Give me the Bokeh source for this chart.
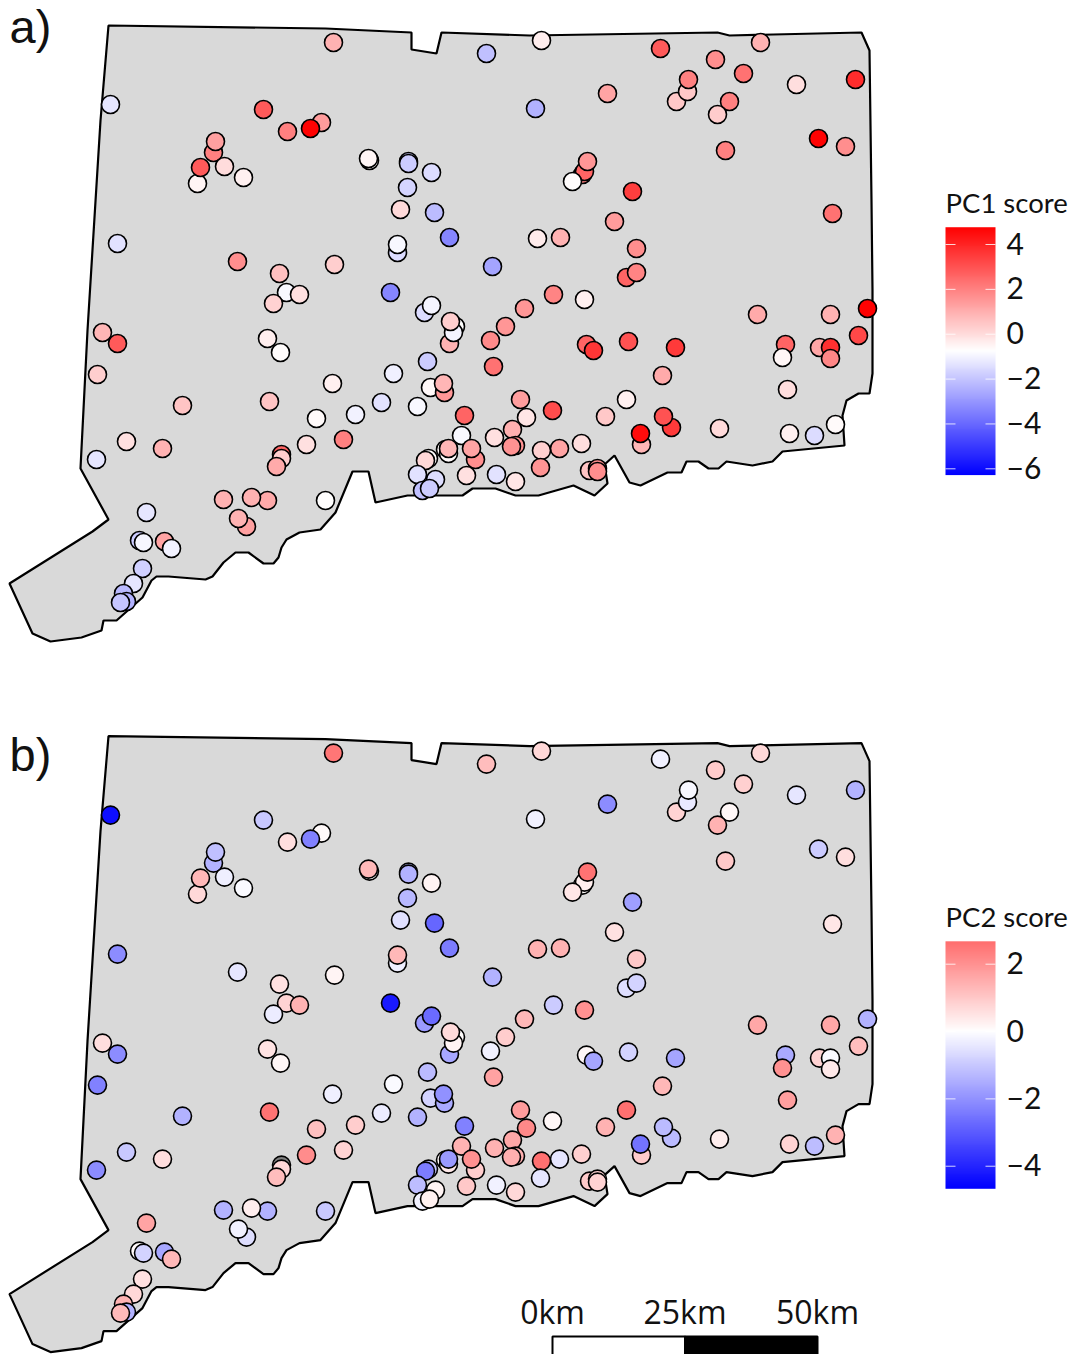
import numpy as np
from bokeh.plotting import figure
from bokeh.layouts import column
from bokeh.models import Range1d, LinearColorMapper, ColumnDataSource
from bokeh.core.properties import value
from bokeh.embed import file_html
from bokeh.resources import INLINE

nan = float("nan")

# Outline of the state, read in map units
outline_x = [108, 325, 411, 411, 436, 441, 529, 717, 729, 861, 869, 871, 872, 872, 869, 858, 846, 842, 844,
             782, 772, 752, 726, 718, 708, 698, 686, 681, 667, 640, 629, 614, 604, 607, 594, 573, 538, 515,
             495, 472, 462, 407, 375, 368, 352, 335, 320, 299, 286, 281, 278, 273, 263, 248, 235, 223, 212,
             205, 168, 156, 151, 142, 116, 103, 101, 81, 50, 32, 9, 92, 108, 80, 87, 100]
outline_y = [25, 28, 32, 49, 53, 32, 35, 32, 35, 32, 50, 200, 290, 373, 393, 393, 400, 415, 445,
             451, 461, 465, 461, 468, 468, 461, 461, 472, 472, 485, 482, 455, 464, 483, 495, 485, 495, 495,
             488, 488, 495, 495, 502, 471, 471, 512, 529, 532, 539, 547, 557, 563, 563, 552, 552, 562, 576,
             579, 576, 576, 580, 597, 620, 620, 630, 637, 641, 633, 583, 531, 519, 468, 330, 120]

# Stations: position on the map and the two principal component scores
station_x = [333, 486, 110, 263, 321, 287, 310, 213, 215, 197,
             200, 224, 243, 369, 368, 408, 408, 431, 407, 400,
             434, 449, 397, 397, 117, 492, 237, 279, 334, 286,
             299, 273, 390, 424, 431, 455, 449, 453, 450, 541,
             660, 760, 715, 743, 607, 676, 687, 688, 729, 717,
             796, 855, 535, 818, 845, 725, 582, 584, 587, 572,
             632, 614, 832, 537, 560, 636, 626, 636, 553, 584,
             524, 757, 830, 867, 505, 102, 117, 97, 182, 269,
             267, 280, 332, 316, 355, 381, 393, 427, 417, 430,
             444, 443, 490, 493, 464, 343, 306, 126, 162, 96,
             281, 281, 276, 461, 445, 448, 448, 475, 471, 466,
             494, 428, 425, 417, 435, 422, 429, 325, 223, 267,
             251, 246, 238, 146, 139, 143, 164, 171, 142, 133,
             123, 126, 120, 520, 526, 512, 515, 511, 496, 515,
             559, 541, 540, 552, 581, 605, 626, 586, 593, 628,
             675, 662, 671, 663, 641, 640, 719, 785, 782, 787,
             819, 830, 830, 858, 789, 814, 835, 589, 597, 597]
station_y = [42, 53, 104, 109, 122, 131, 128, 152, 141, 183,
             167, 166, 177, 160, 158, 161, 163, 172, 187, 209,
             212, 237, 252, 244, 243, 266, 261, 273, 264, 292,
             294, 303, 292, 312, 305, 326, 343, 332, 321, 40,
             48, 42, 59, 73, 93, 101, 91, 79, 101, 114,
             84, 79, 108, 138, 146, 150, 174, 171, 161, 181,
             191, 221, 213, 238, 237, 248, 277, 272, 294, 299,
             308, 314, 314, 308, 326, 332, 343, 374, 405, 401,
             338, 352, 383, 418, 414, 402, 373, 361, 406, 387,
             392, 383, 340, 366, 415, 439, 444, 441, 448, 459,
             454, 458, 466, 435, 449, 453, 448, 459, 448, 475,
             437, 458, 460, 474, 479, 490, 488, 500, 499, 500,
             497, 526, 518, 512, 540, 542, 541, 548, 568, 583,
             593, 601, 602, 399, 417, 429, 445, 446, 474, 481,
             448, 450, 467, 410, 443, 416, 399, 344, 350, 341,
             347, 375, 427, 416, 444, 433, 428, 344, 357, 389,
             347, 347, 358, 335, 433, 435, 424, 470, 468, 471]
pc1_scores = [0.9, -2.1, -1.3, 2.8, 1.4, 2.0, 4.7, 2.0, 1.3, -0.5,
              2.8, 0.0, -0.45, -0.7, -0.55, -1.8, -1.85, -1.5, -1.7, 0.05,
              -2.2, -3.35, -1.5, -0.9, -1.4, -2.7, 1.7, 0.6, 0.3, -0.9,
              -0.1, 0.2, -3.35, -1.5, -1.0, -0.75, 0.9, -1.0, 0.3, -0.4,
              2.8, 0.9, 1.7, 2.3, 1.2, 0.45, 0.45, 2.0, 2.0, 0.35,
              -0.05, 3.8, -2.4, 4.7, 1.7, 2.0, 2.0, 2.6, 1.5, -0.7,
              3.4, 1.4, 2.3, -0.35, 0.9, 1.7, 2.6, 1.9, 1.9, -0.45,
              1.5, 1.1, 0.9, 4.7, 1.5, 0.8, 2.8, 0.3, 0.5, 0.5,
              -0.4, -0.7, -0.45, -0.65, -1.05, -1.4, -1.1, -1.85, -0.9, -0.6,
              1.5, 0.8, 1.75, 2.3, 2.6, 2.0, -0.1, -0.1, 0.9, -1.3,
              2.6, 0.3, 1.1, -0.9, -0.65, -0.65, 0.8, 1.7, 1.2, -0.1,
              -0.1, -0.7, 0.1, -1.4, -1.45, -2.1, -1.85, -0.75, 0.9, 1.1,
              0.9, 1.3, 0.9, -1.3, -1.85, -0.95, 1.2, -1.05, -1.75, -1.3,
              -2.25, -2.4, -2.0, 1.35, -0.2, 0.95, 1.6, 1.6, -1.4, -0.2,
              1.2, 0.25, 1.55, 3.1, -0.05, 0.45, -0.45, 2.6, 3.6, 3.0,
              3.5, 1.1, 3.5, 3.0, 0.8, 4.5, 0.05, 2.6, -0.55, -0.05,
              1.15, 3.7, 1.85, 3.2, -0.45, -1.5, -0.65, 0.5, 1.7, 1.7]
pc2_scores = [2.5, 1.2, -4.4, -1.0, 0.1, 0.6, -2.3, -1.4, -1.15, 0.7,
              1.3, -0.3, -0.1, 0.0, 1.3, -1.3, -1.4, 0.2, -1.3, -0.55,
              -2.8, -2.4, -0.3, 1.3, -2.1, -1.4, -0.45, 0.55, 0.2, 0.8,
              1.4, -0.35, -4.2, -1.85, -2.7, 0.05, -1.6, 0.2, 0.65, 0.7,
              -0.25, 0.7, 0.95, 0.85, -2.1, 0.8, -0.4, -0.15, 0.15, 1.4,
              -0.45, -1.4, -0.25, -0.95, 0.6, 1.0, 0.05, 0.3, 2.55, 0.45,
              -1.75, 0.55, 0.45, 1.4, 1.4, 1.0, -0.6, -0.8, -0.95, 2.0,
              1.3, 1.6, 1.6, -1.4, 0.9, 0.6, -2.1, -2.3, -1.4, 2.55,
              0.5, 0.15, -0.3, 1.15, 0.9, -0.35, -0.1, -1.25, -1.4, -0.8,
              -1.55, -2.0, -0.25, 1.7, -2.3, 0.8, 2.1, -1.0, 0.6, -2.1,
              nan, 0.7, 1.2, 1.4, 0.1, 0.4, -1.85, 0.9, 2.0, 1.0,
              1.4, -1.0, -2.4, -1.2, 0.2, -0.25, 0.25, -1.0, -1.4, -1.4,
              0.3, -0.6, -0.25, 1.65, 0.1, -0.8, -1.6, 1.3, 0.55, 0.7,
              1.4, -1.4, 1.25, 1.8, 2.15, 1.6, 1.45, 1.45, -0.25, 0.7,
              -0.45, 2.6, -0.45, 0.15, 0.85, 1.4, 2.6, 0.15, -1.65, -0.8,
              -1.65, 1.3, -1.25, -1.25, 0.95, -2.55, 0.3, -1.55, 2.0, 1.75,
              0.8, -0.1, 0.4, 1.2, 0.8, -1.2, 1.4, 0.95, 0.8, 0.8]

# Colour scales
pc1_low, pc1_mid, pc1_high = -6.28, -0.755, 4.77
pc2_low, pc2_mid, pc2_high = -4.67, 0.0, 2.68
pc2_half_span = 4.67
pc1_ticks = [4, 2, 0, -2, -4, -6]
pc2_ticks = [2, 0, -2, -4]

scale_km = [0, 25, 50]
scale_labels = ["0km", "25km", "50km"]

PANEL_OFFSET = 710.6
PX_PER_KM = 5.3
SCALE_ORIGIN = 552


def palette(low, mid, high, half):
    colours = []
    for v in np.linspace(low, high, 256):
        a = min(abs(v - mid) / half, 1.0)
        c = int(round(255 * (1 - a)))
        colours.append(f"#ff{c:02x}{c:02x}" if v >= mid else f"#{c:02x}{c:02x}ff")
    return colours


def panel(letter, letter_y, scores, low, mid, high, half, ticks, title, page_top, page_bottom, offset,
          tick_anchor, px_per_unit):
    p = figure(width=1070, height=page_bottom - page_top, output_backend="svg", toolbar_location=None,
               x_range=Range1d(0, 1070), y_range=Range1d(page_bottom - offset, page_top - offset),
               x_axis_type=None, y_axis_type=None, min_border=0, outline_line_color=None,
               background_fill_color="white", border_fill_color="white")
    p.grid.visible = False
    # score axis used by the legend: tick_anchor is the page row of ticks[0]
    p.extra_y_ranges = {"score": Range1d(ticks[0] - (page_bottom - tick_anchor) / px_per_unit,
                                         ticks[0] + (tick_anchor - page_top) / px_per_unit)}

    p.patch(outline_x, outline_y, fill_color="#d9d9d9", line_color="black", line_width=2.2)

    mapper = LinearColorMapper(palette=palette(low, mid, high, half), low=low, high=high, nan_color="#808080")
    src = ColumnDataSource(dict(x=station_x, y=station_y, score=np.array(scores, dtype=float)))
    p.scatter("x", "y", source=src, size=18, marker="circle",
              fill_color={"field": "score", "transform": mapper}, line_color="black", line_width=1.6)

    # Panel letter
    p.text([9], [letter_y], text=[letter],
           text_font=value("Liberation Sans"), text_font_size="47px", text_baseline="alphabetic",
           text_color="#111111")

    # Legend
    grad = np.linspace(low, high, 256).reshape(256, 1)
    p.image(image=[grad], x=945, y=low, dw=50, dh=high - low, color_mapper=mapper, y_range_name="score")
    n = len(ticks)
    p.segment([945] * n, ticks, [955] * n, ticks, line_color="white", line_width=1, line_alpha=0.8, y_range_name="score")
    p.segment([985] * n, ticks, [995] * n, ticks, line_color="white", line_width=1, line_alpha=0.8, y_range_name="score")
    labels = [str(t).replace("-", "\u2212") for t in ticks]
    p.text([1006] * n, ticks, text=labels, text_font=value("Lato"), text_font_size="30px",
           text_baseline="middle", text_color="#111111", y_range_name="score", y_offset=-1)
    p.text([945], [high], text=[title], text_font=value("Lato"), text_font_size="27.5px",
           text_baseline="alphabetic", text_color="#111111", y_range_name="score", y_offset=-25)
    return p


pa = panel("a)", 26, pc1_scores, pc1_low, pc1_mid, pc1_high, pc1_high - pc1_mid, pc1_ticks, "PC1 score",
           0, 710, 0.0, 244.0, 22.43)
pb = panel("b)", 754 - PANEL_OFFSET, pc2_scores, pc2_low, pc2_mid, pc2_high, pc2_half_span, pc2_ticks, "PC2 score",
           710, 1354, PANEL_OFFSET, 963.7, 33.67)

# Scale bar on the lower panel
scale_x = [SCALE_ORIGIN + k * PX_PER_KM for k in scale_km]
bar_top, bar_bottom = 1336 - PANEL_OFFSET, 1362 - PANEL_OFFSET
pb.quad(left=scale_x[:2], right=scale_x[1:], top=[bar_top] * 2, bottom=[bar_bottom] * 2,
        fill_color=["white", "black"], line_color="black", line_width=2)
pb.text(scale_x, [1311 - PANEL_OFFSET] * 3, text=scale_labels, text_font=value("Open Sans"),
        text_font_size="32px", text_align="center", text_baseline="alphabetic", text_color="#111111")

layout = column(pa, pb, spacing=0)
open("out.html", "w").write(file_html(layout, INLINE))
